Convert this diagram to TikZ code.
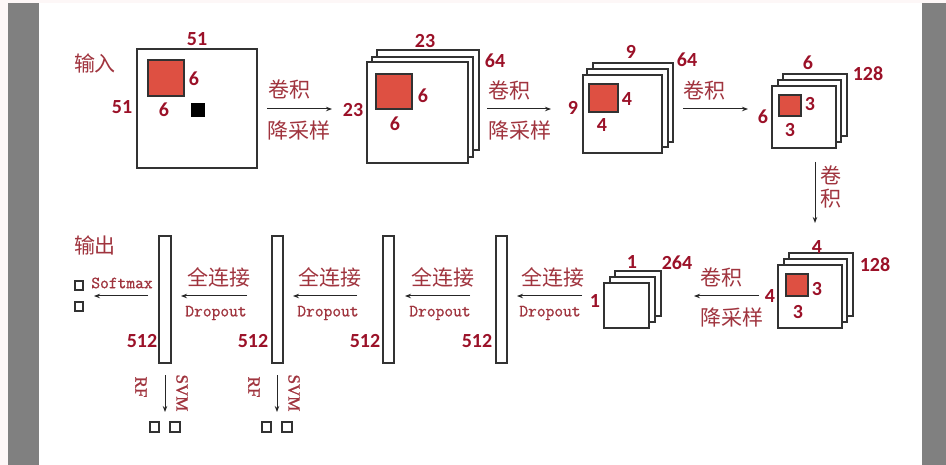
\documentclass[tikz,border=0pt]{standalone}
\usepackage{fontspec}
\setmainfont{Carlito}
\newfontfamily\cjk{Noto Sans CJK SC}
\newfontfamily\serifen[FakeBold=1.2]{Liberation Serif}
\newfontfamily\monoen[FakeBold=1.0]{Latin Modern Mono}
\usetikzlibrary{arrows.meta}
\definecolor{numred}{RGB}{155,17,40}
\definecolor{cnred}{RGB}{160,52,62}
\definecolor{sqred}{RGB}{222,80,66}
\definecolor{pagebg}{RGB}{253,247,247}
\definecolor{sidebar}{RGB}{128,128,128}
\definecolor{edge}{RGB}{50,50,50}
\newcommand\boxat[6]{%
  \pgfmathsetmacro\bw{#5-#3}\pgfmathsetmacro\bh{#6-#4}%
  \node[#1, minimum width=\bw pt, minimum height=\bh pt, anchor=north west] (#2) at (#3,#4) {};}
\begin{document}
\begin{tikzpicture}[x=1pt,y=-1pt,
  num/.style={font=\fontsize{20}{20}\selectfont\bfseries, text=numred, inner sep=0pt},
  cn/.style={font=\cjk\fontsize{21}{21}\selectfont, text=cnred, inner sep=0pt},
  en/.style={font=\monoen\fontsize{17}{17}\selectfont, text=cnred, inner sep=0pt},
  rot/.style={font=\serifen\fontsize{17}{17}\selectfont, text=cnred, inner sep=0pt, rotate=-90},
  fmap/.style={draw=edge, line width=1.3pt, fill=white, inner sep=0pt, outer sep=0pt},
  kern/.style={draw=edge, line width=1.3pt, fill=sqred, inner sep=0pt, outer sep=0pt},
  dot/.style={draw=black, fill=black, inner sep=0pt, outer sep=0pt},
  fcbar/.style={draw=edge, line width=1.3pt, fill=white, inner sep=0pt, outer sep=0pt},
  outsq/.style={draw=edge, line width=1.2pt, fill=white, inner sep=0pt, outer sep=0pt},
  arr/.style={-{Stealth[length=6pt,width=4.5pt]}, line width=1pt, draw=black!85}]
% background
\useasboundingbox (0,0) rectangle (946,465);
\fill[pagebg] (0,0) rectangle (946,465);
\fill[white] (39,3) rectangle (922,465);
\fill[sidebar] (8,3) rectangle (39,465);
\fill[sidebar] (922,3) rectangle (946,465);

% ---- input 51x51
\boxat{fmap}{in}{137}{49}{257}{168}
\boxat{kern}{k1}{148}{60}{184}{96}
\boxat{dot}{px}{191}{103}{204}{116}
\node[num] (n1a) at (197,39) {51};
\node[num] (n1b) at (122,107) {51};
\node[num] (n1c) at (194,79) {6};
\node[num] (n1d) at (164,110) {6};
\node[cn] (tin) at (95,63) {输入};

% ---- 23x23x64
\boxat{fmap}{m2c}{377}{50}{479}{150}
\boxat{fmap}{m2b}{372}{57}{473}{157}
\boxat{fmap}{m2}{367}{62}{468}{163}
\boxat{kern}{k2}{376}{74}{412}{109}
\node[num] (n2a) at (425,41) {23};
\node[num] (n2b) at (495,61) {64};
\node[num] (n2c) at (353,110) {23};
\node[num] (n2d) at (423,96) {6};
\node[num] (n2e) at (395,124) {6};

% ---- 9x9x64
\boxat{fmap}{m3c}{593}{63}{673}{142}
\boxat{fmap}{m3b}{587}{69}{668}{147}
\boxat{fmap}{m3}{583}{75}{662}{153}
\boxat{kern}{k3}{589}{84}{618}{112}
\node[num] (n3a) at (631,52) {9};
\node[num] (n3b) at (687,60) {64};
\node[num] (n3c) at (573,108) {9};
\node[num] (n3d) at (627,99) {4};
\node[num] (n3e) at (602,125) {4};

% ---- 6x6x128
\boxat{fmap}{m4c}{783}{74}{847}{136}
\boxat{fmap}{m4b}{778}{80}{841}{142}
\boxat{fmap}{m4}{772}{86}{836}{148}
\boxat{kern}{k4}{779}{95}{801}{116}
\node[num] (n4a) at (808,63) {6};
\node[num] (n4b) at (868,74) {128};
\node[num] (n4c) at (763,117) {6};
\node[num] (n4d) at (810,104) {3};
\node[num] (n4e) at (790,130) {3};

% ---- 4x4x128
\boxat{fmap}{m5c}{789}{253}{853}{316}
\boxat{fmap}{m5b}{784}{259}{847}{322}
\boxat{fmap}{m5}{778}{265}{842}{328}
\boxat{kern}{k5}{786}{274}{808}{296}
\node[num] (n5a) at (817,247) {4};
\node[num] (n5b) at (875,265) {128};
\node[num] (n5c) at (770,296) {4};
\node[num] (n5d) at (817,289) {3};
\node[num] (n5e) at (798,312) {3};

% ---- 1x1x264
\boxat{fmap}{m6c}{615}{271}{661}{316}
\boxat{fmap}{m6b}{610}{277}{655}{322}
\boxat{fmap}{m6}{604}{283}{649}{328}
\node[num] (n6a) at (632,262) {1};
\node[num] (n6b) at (677,263) {264};
\node[num] (n6c) at (595,301) {1};

% ---- fully connected bars
\boxat{fcbar}{b1}{159}{236}{171}{363}
\boxat{fcbar}{b2}{272}{236}{283}{363}
\boxat{fcbar}{b3}{383}{236}{394}{363}
\boxat{fcbar}{b4}{496}{236}{507}{363}
\node[num] (s1) at (142,341) {512};
\node[num] (s2) at (253,341) {512};
\node[num] (s3) at (365,341) {512};
\node[num] (s4) at (477,341) {512};

% ---- top row arrows
\coordinate (a1s) at (267,109); \coordinate (a1e) at (332,109);
\draw[arr] (a1s) -- (a1e);
\node[cn] (a1t) at (289,90) {卷积};
\node[cn] (a1b) at (299,130) {降采样};
\coordinate (a2s) at (487,109); \coordinate (a2e) at (551,109);
\draw[arr] (a2s) -- (a2e);
\node[cn] (a2t) at (509,91) {卷积};
\node[cn] (a2b) at (520,130) {降采样};
\coordinate (a3s) at (683,109); \coordinate (a3e) at (748,109);
\draw[arr] (a3s) -- (a3e);
\node[cn] (a3t) at (704,91) {卷积};

% ---- down arrow
\coordinate (a4s) at (815,162); \coordinate (a4e) at (815,223);
\draw[arr] (a4s) -- (a4e);
\node[cn, align=center, font=\cjk\fontsize{21}{23}\selectfont] (a4t) at (831,187) {卷\\积};

% ---- bottom row arrows
\coordinate (a5s) at (759,296); \coordinate (a5e) at (694,296);
\draw[arr] (a5s) -- (a5e);
\node[cn] (a5t) at (721,277) {卷积};
\node[cn] (a5b) at (732,317) {降采样};

\coordinate (f1s) at (582,296); \coordinate (f1e) at (517,296);
\draw[arr] (f1s) -- (f1e);
\node[cn] (f1t) at (553,277) {全连接};
\node[en] (f1b) at (550,313) {Dropout};
\coordinate (f2s) at (470,296); \coordinate (f2e) at (405,296);
\draw[arr] (f2s) -- (f2e);
\node[cn] (f2t) at (443,277) {全连接};
\node[en] (f2b) at (440,313) {Dropout};
\coordinate (f3s) at (357,296); \coordinate (f3e) at (293,296);
\draw[arr] (f3s) -- (f3e);
\node[cn] (f3t) at (330,277) {全连接};
\node[en] (f3b) at (328,313) {Dropout};
\coordinate (f4s) at (247,296); \coordinate (f4e) at (181,296);
\draw[arr] (f4s) -- (f4e);
\node[cn] (f4t) at (219,277) {全连接};
\node[en] (f4b) at (216,313) {Dropout};

% ---- softmax output
\coordinate (smS) at (148,296); \coordinate (smE) at (94,296);
\draw[arr] (smS) -- (smE);
\node[en] (smt) at (122,283) {Softmax};
\boxat{outsq}{o1}{75}{281}{83}{290}
\boxat{outsq}{o2}{75}{302}{83}{311}
\node[cn] (tout) at (95,245) {输出};

% ---- RF / SVM outputs
\coordinate (r1s) at (165,375); \coordinate (r1e) at (165,412);
\draw[arr] (r1s) -- (r1e);
\node[rot] (rf1) at (141,387) {RF};
\node[rot] (svm1) at (182,393) {SVM};
\boxat{outsq}{q1}{150}{422}{159}{432}
\boxat{outsq}{q2}{170}{422}{180}{432}
\coordinate (r2s) at (277,375); \coordinate (r2e) at (277,412);
\draw[arr] (r2s) -- (r2e);
\node[rot] (rf2) at (254,387) {RF};
\node[rot] (svm2) at (294,393) {SVM};
\boxat{outsq}{q3}{262}{422}{271}{432}
\boxat{outsq}{q4}{282}{422}{292}{432}
\end{tikzpicture}
\end{document}
